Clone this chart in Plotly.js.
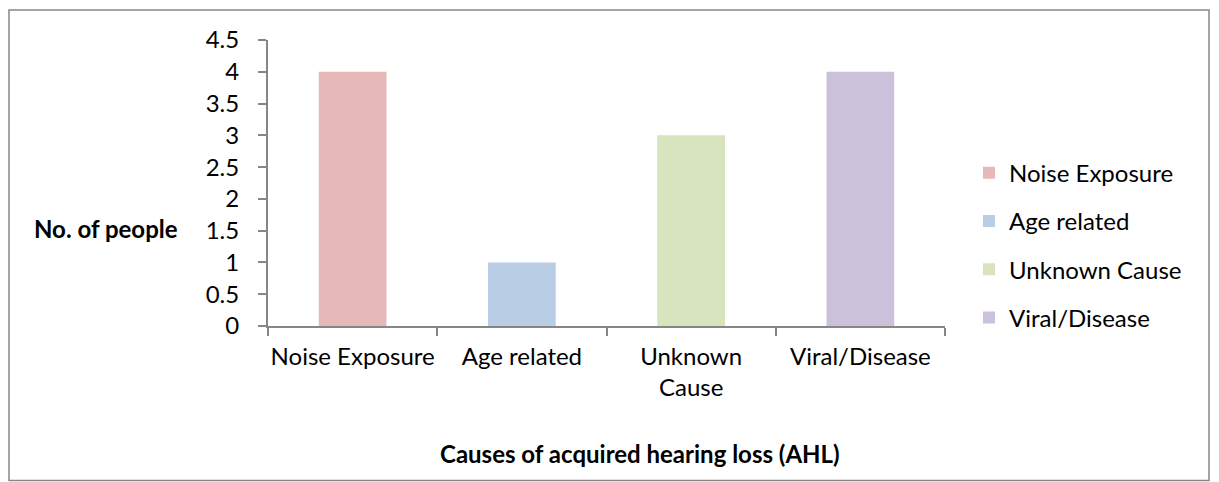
<!DOCTYPE html>
<html>
<head>
<meta charset="utf-8">
<script src="https://cdn.plot.ly/plotly-3.0.1.min.js"></script>
<style>html,body{margin:0;padding:0;background:#fff;}#chart{width:1219px;height:482px;}</style>
</head>
<body>
<div id="chart"></div>
<script>
const categories = ['Noise Exposure', 'Age related', 'Unknown Cause', 'Viral/Disease'];
const values = [4, 1, 3, 4];
const tickLabels = ['Noise Exposure', 'Age related', 'Unknown<br>Cause', 'Viral/Disease'];
const barColors = ['#E6B9B8', '#B9CDE5', '#D7E4BD', '#CCC1DA'];
const yTicks = [0, 0.5, 1, 1.5, 2, 2.5, 3, 3.5, 4, 4.5];
const xTitle = 'Causes of acquired hearing loss (AHL)';
const yTitle = 'No. of people';

const FONT = 'Lato, "Open Sans", sans-serif';
const FS = 24;
const AX = '#868686';

const traces = categories.map((c, i) => ({
  type: 'bar',
  x: [c],
  y: [values[i]],
  name: c,
  width: 0.4,
  legendgroup: 'g' + i,
  marker: {color: barColors[i], line: {width: 0}},
  hoverinfo: 'x+y'
}));

// plot area pixel geometry
const L = 268, R = 945, T = 40, B = 325.7;
const W = R - L, H = B - T;
const px = x => (x - L) / W;
const py = y => (B - y) / H;

const layout = {
  width: 1219, height: 482,
  margin: {l: L, r: 1219 - R, t: T, b: 482 - B, pad: 0},
  paper_bgcolor: '#ffffff', plot_bgcolor: '#ffffff',
  font: {family: FONT, size: FS, color: '#000'},
  barmode: 'overlay',
  showlegend: true,
  legend: {
    x: px(969), xanchor: 'left', y: py(245), yanchor: 'middle',
    font: {family: FONT, size: FS, color: '#000'},
    tracegroupgap: 14, bgcolor: 'rgba(0,0,0,0)'
  },
  xaxis: {
    type: 'category',
    categoryorder: 'array', categoryarray: categories,
    tickvals: categories, ticktext: tickLabels,
    tickangle: 0,
    tickson: 'boundaries', ticks: 'outside', ticklen: 8, tickwidth: 2, tickcolor: AX,
    ticklabelstandoff: 8,
    showline: true, linecolor: AX, linewidth: 2,
    showgrid: false, zeroline: false,
    tickfont: {family: FONT, size: FS, color: '#000'},
    fixedrange: true
  },
  yaxis: {
    range: [0, 4.5],
    tickvals: yTicks, ticktext: yTicks.map(v => String(v)),
    ticks: 'outside', ticklen: 8, tickwidth: 2, tickcolor: AX,
    ticklabelstandoff: 14,
    showline: true, linecolor: AX, linewidth: 2,
    showgrid: false, zeroline: false,
    tickfont: {family: FONT, size: FS, color: '#000'},
    fixedrange: true
  },
  shapes: [{
    type: 'rect', xref: 'paper', yref: 'paper',
    x0: px(9), x1: px(1209), y0: py(480), y1: py(10),
    line: {color: AX, width: 1.5}, fillcolor: 'rgba(0,0,0,0)', layer: 'below'
  }],
  annotations: [
    {text: yTitle, xref: 'paper', yref: 'paper', x: px(105.5), y: py(228),
     xanchor: 'center', yanchor: 'middle', showarrow: false,
     font: {family: FONT, size: FS, color: '#000', weight: 'bold'}},
    {text: xTitle, xref: 'paper', yref: 'paper', x: px(640), y: py(453),
     xanchor: 'center', yanchor: 'middle', showarrow: false,
     font: {family: FONT, size: FS, color: '#000', weight: 'bold'}}
  ]
};

Plotly.newPlot('chart', traces, layout, {displayModeBar: false, staticPlot: true});
</script>
</body>
</html>
